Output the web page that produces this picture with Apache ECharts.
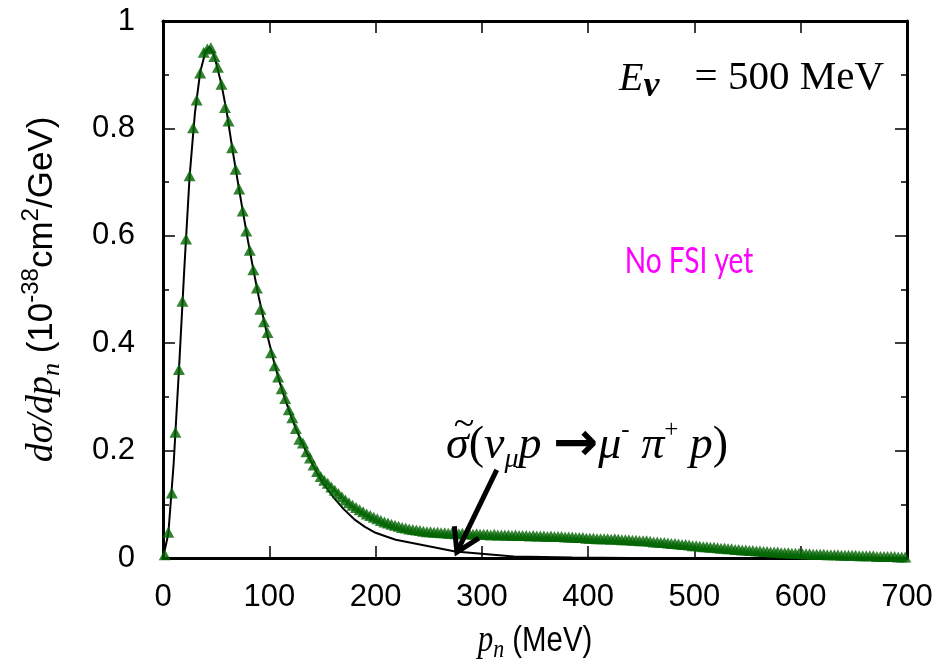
<!DOCTYPE html>
<html><head><meta charset="utf-8">
<script src="https://cdn.jsdelivr.net/npm/echarts@6/dist/echarts.min.js"></script>
<style>html,body{margin:0;padding:0;background:#fff}#c{width:939px;height:667px}</style>
</head><body><div id="c"></div>
<script>
// ---- data ----
const BIN_WIDTH = 10 / 3; // MeV, width of each momentum bin of the triangle series
const xTicks = [0, 100, 200, 300, 400, 500, 600, 700];
const yTicks = [0, 0.2, 0.4, 0.6, 0.8, 1];
// green triangles: dσ/dp_n at bin centres (10^-38 cm^2/GeV)
const triangleValues = [
  0.006, 0.048, 0.121, 0.234, 0.351, 0.478, 0.594, 0.712, 0.801, 0.853, 0.903, 0.942, 0.948, 0.950, 0.934,
  0.914, 0.882, 0.839, 0.814, 0.764, 0.724, 0.687, 0.646, 0.609, 0.573, 0.537, 0.503,
  0.463, 0.440, 0.420, 0.382, 0.358, 0.337, 0.315, 0.297, 0.276, 0.261, 0.241, 0.221, 0.214, 0.198, 0.186, 0.173, 0.161, 0.152,
  0.145, 0.139, 0.132, 0.126, 0.120, 0.114, 0.108, 0.103, 0.098, 0.094, 0.090, 0.086, 0.082, 0.079, 0.076, 0.073, 0.070, 0.067, 0.065,
  0.063, 0.061, 0.059, 0.057, 0.056, 0.054, 0.053, 0.052, 0.051, 0.050, 0.049, 0.049, 0.048, 0.048, 0.047, 0.047, 0.046, 0.046, 0.045,
  0.045, 0.046, 0.045, 0.045, 0.044, 0.045, 0.044, 0.044, 0.044, 0.043, 0.044, 0.043, 0.043, 0.043, 0.043, 0.042, 0.043,
  0.042, 0.042, 0.042, 0.041, 0.042, 0.041, 0.041, 0.041, 0.040, 0.041, 0.040, 0.040, 0.040, 0.039, 0.039, 0.039, 0.038, 0.038, 0.038, 0.037,
  0.037, 0.037, 0.036, 0.036, 0.036, 0.036, 0.035, 0.036, 0.035, 0.034, 0.034, 0.034, 0.033, 0.033, 0.032, 0.032, 0.032, 0.031, 0.030, 0.030,
  0.029, 0.029, 0.028, 0.027, 0.027, 0.026, 0.025, 0.025, 0.024, 0.023, 0.023, 0.022, 0.021, 0.021, 0.020, 0.020, 0.019, 0.018, 0.018, 0.017,
  0.017, 0.016, 0.016, 0.015, 0.015, 0.014, 0.014, 0.013, 0.013, 0.012, 0.012, 0.011, 0.011, 0.011, 0.010, 0.010, 0.010, 0.009, 0.009, 0.009,
  0.008, 0.008, 0.008, 0.007, 0.007, 0.007, 0.007, 0.006, 0.006, 0.006, 0.006, 0.005, 0.005, 0.005, 0.005, 0.005, 0.004, 0.004, 0.004, 0.004,
  0.004, 0.003, 0.003, 0.003, 0.003, 0.003, 0.003, 0.002, 0.002, 0.002
];
// black curve (no FSI model)
const curveP = [0, 5, 10, 15, 20, 25, 30, 35, 40, 43.5, 47, 50, 55, 60, 65, 70, 75, 80, 85, 90, 95, 100, 105, 110, 115, 120, 125, 130, 135, 140, 145, 150, 160, 170, 180, 190, 200, 210, 219, 275, 330, 385, 440, 500, 600, 700];
const curveV = [0, 0.045, 0.175, 0.35, 0.537, 0.71, 0.828, 0.905, 0.943, 0.952, 0.942, 0.922, 0.882, 0.830, 0.765, 0.705, 0.647, 0.590, 0.537, 0.487, 0.442, 0.400, 0.361, 0.326, 0.295, 0.267, 0.241, 0.218, 0.197, 0.177, 0.158, 0.141, 0.114, 0.091, 0.072, 0.058, 0.047, 0.040, 0.034, 0.012, 0.003, 0.001, 0, 0, 0, 0];
// annotation arrow: tail and tip in data coordinates
const arrowTail = [314, 0.164];
const arrowTip = [276.5, 0.011];

const triangleData = triangleValues.map((v, i) => [(i + 0.5) * BIN_WIDTH, v]);
const curveData = curveP.map((p, i) => [p, curveV[i]]);

const chart = echarts.init(document.getElementById('c'), null, {renderer: 'canvas'});
const SERIF = 'Liberation Serif';
const SANS = 'Liberation Sans';
const axisCommon = {
  type: 'value', min: 0, max: 700, interval: 100,
  axisLine: {show: true, onZero: false, lineStyle: {color: '#000', width: 3}},
  splitLine: {show: false}
};
const option = {
  animation: false,
  grid: {left: 163, right: 32, top: 21, bottom: 109, containLabel: false},
  xAxis: [
    Object.assign({}, axisCommon, {
      position: 'bottom',
      axisTick: {show: true, inside: true, length: 12, lineStyle: {color: '#000', width: 1.5}},
      axisLabel: {show: true, margin: 24, color: '#000', fontFamily: SANS, fontSize: 31,
        formatter: v => xTicks.includes(v) ? String(v) : ''}
    }),
    Object.assign({}, axisCommon, {
      position: 'top',
      axisTick: {show: true, inside: true, length: 12, lineStyle: {color: '#000', width: 1.5}},
      axisLabel: {show: false}
    })
  ],
  yAxis: [
    {
      type: 'value', min: 0, max: 1, interval: 0.2, position: 'left',
      axisLine: {show: true, onZero: false, lineStyle: {color: '#000', width: 3}},
      axisTick: {show: true, inside: true, length: 12, lineStyle: {color: '#000', width: 1.5}},
      minorTick: {show: true, splitNumber: 2, length: 6, lineStyle: {color: '#000', width: 1.5}},
      splitLine: {show: false},
      axisLabel: {show: true, margin: 28, color: '#000', fontFamily: SANS, fontSize: 31,
        formatter: v => String(+v.toFixed(1))},
      name: '{i|dσ/dp}{is|n}{s| (10}{sup|-38}{s|cm}{sup|2}{s|/GeV)}',
      nameLocation: 'middle', nameGap: 98, nameRotate: 90,
      nameTextStyle: {rich: {
        i: {fontFamily: SERIF, fontStyle: 'italic', fontSize: 38, color: '#000', lineHeight: 46},
        is: {fontFamily: SERIF, fontStyle: 'italic', fontSize: 26, color: '#000', lineHeight: 46, verticalAlign: 'bottom'},
        s: {fontFamily: SANS, fontSize: 35, color: '#000', lineHeight: 46},
        sup: {fontFamily: SANS, fontSize: 24, color: '#000', lineHeight: 46, verticalAlign: 'top'}
      }}
    },
    {
      type: 'value', min: 0, max: 1, interval: 0.2, position: 'right',
      axisLine: {show: true, onZero: false, lineStyle: {color: '#000', width: 3}},
      axisTick: {show: true, inside: true, length: 12, lineStyle: {color: '#000', width: 1.5}},
      minorTick: {show: true, splitNumber: 2, length: 6, lineStyle: {color: '#000', width: 1.5}},
      splitLine: {show: false},
      axisLabel: {show: false}
    }
  ],
  series: [
    {
      type: 'line', name: 'curve', data: curveData, xAxisIndex: 0, yAxisIndex: 0,
      showSymbol: false, symbol: 'none', smooth: false, z: 2,
      lineStyle: {color: '#000', width: 2}
    },
    {
      type: 'scatter', name: 'full', data: triangleData, xAxisIndex: 0, yAxisIndex: 0,
      symbol: 'triangle', symbolSize: [12, 11], z: 3,
      itemStyle: {color: '#006400'}
    }
  ]
};
chart.setOption(option);

// annotations
const tip = chart.convertToPixel({xAxisIndex: 0, yAxisIndex: 0}, arrowTip);
const tail = chart.convertToPixel({xAxisIndex: 0, yAxisIndex: 0}, arrowTail);
const dx = tail[0] - tip[0], dy = tail[1] - tip[1];
const L = Math.hypot(dx, dy), ux = dx / L, uy = dy / L;
const ang = 0.55, armLen = 26;
function rot(x, y, a) { return [x * Math.cos(a) - y * Math.sin(a), x * Math.sin(a) + y * Math.cos(a)]; }
const a1 = rot(ux, uy, ang), a2 = rot(ux, uy, -ang);

chart.setOption({
  graphic: [
    {type: 'polyline', z: 10, shape: {points: [tail, tip]}, style: {stroke: '#000', lineWidth: 5, lineCap: 'butt'}},
    {type: 'polyline', z: 10, shape: {points: [[tip[0] + a1[0] * armLen, tip[1] + a1[1] * armLen], [tip[0], tip[1]], [tip[0] + a2[0] * armLen, tip[1] + a2[1] * armLen]]},
      style: {stroke: '#000', lineWidth: 5, lineJoin: 'miter', fill: null}},
    // x-axis title
    {type: 'text', z: 10, x: 535, y: 641, scaleX: 0.84, style: {
      text: '{i|p}{is|n}{s| (MeV)}', align: 'center', verticalAlign: 'middle', fill: '#000',
      rich: {
        i: {fontFamily: SERIF, fontStyle: 'italic', fontSize: 37, fill: '#000', lineHeight: 44},
        is: {fontFamily: SERIF, fontStyle: 'italic', fontSize: 26, fill: '#000', lineHeight: 44, verticalAlign: 'bottom'},
        s: {fontFamily: SANS, fontSize: 35, fill: '#000', lineHeight: 44}
      }}},
    // energy label
    {type: 'text', z: 10, x: 619, y: 79, style: {
      text: '{i|E}{sub|ν}', verticalAlign: 'middle', align: 'left', fill: '#000',
      rich: {
        i: {fontFamily: SERIF, fontStyle: 'italic', fontSize: 40, fill: '#000', lineHeight: 52},
        sub: {fontFamily: SERIF, fontStyle: 'italic', fontWeight: 'bold', fontSize: 36, fill: '#000', lineHeight: 52, verticalAlign: 'bottom'}
      }}},
    {type: 'text', z: 10, x: 884, y: 78, style: {
      text: '= 500 MeV', verticalAlign: 'middle', align: 'right', fill: '#000',
      font: '41px "Liberation Serif"'}},
    {type: 'text', z: 10, x: 689, y: 261, scaleX: 0.78, style: {
      text: 'No FSI yet', align: 'center', verticalAlign: 'middle', fill: '#ff00ff',
      font: '36px Lato'}},
    {type: 'text', z: 10, x: 446, y: 446, style: {
      text: '{i|σ}{r|(}{i|ν}{sub|μ}{i|p}{sp| }{ar|→}{i|μ}{sup|-}{sp| }{i|π}{sup|+}{sp| }{i|p}{r|)}',
      align: 'left', verticalAlign: 'middle', fill: '#000',
      rich: {
        i: {fontFamily: SERIF, fontStyle: 'italic', fontSize: 46, fill: '#000', lineHeight: 56},
        r: {fontFamily: SERIF, fontSize: 46, fill: '#000', lineHeight: 56},
        sp: {fontFamily: SERIF, fontSize: 46, fill: '#000', lineHeight: 56},
        sub: {fontFamily: SERIF, fontStyle: 'italic', fontSize: 28, fill: '#000', lineHeight: 56, verticalAlign: 'bottom'},
        sup: {fontFamily: SERIF, fontSize: 25, fill: '#000', lineHeight: 56, verticalAlign: 'top'},
        ar: {fontFamily: 'DejaVu Sans', fontWeight: 'bold', fontSize: 54, fill: '#000', lineHeight: 56}
      }}},
    {type: 'text', z: 10, x: 464, y: 425, style: {
      text: '~', align: 'center', verticalAlign: 'middle', fill: '#000', font: '38px "Liberation Serif"'}}
  ]
});
</script>
</body></html>
